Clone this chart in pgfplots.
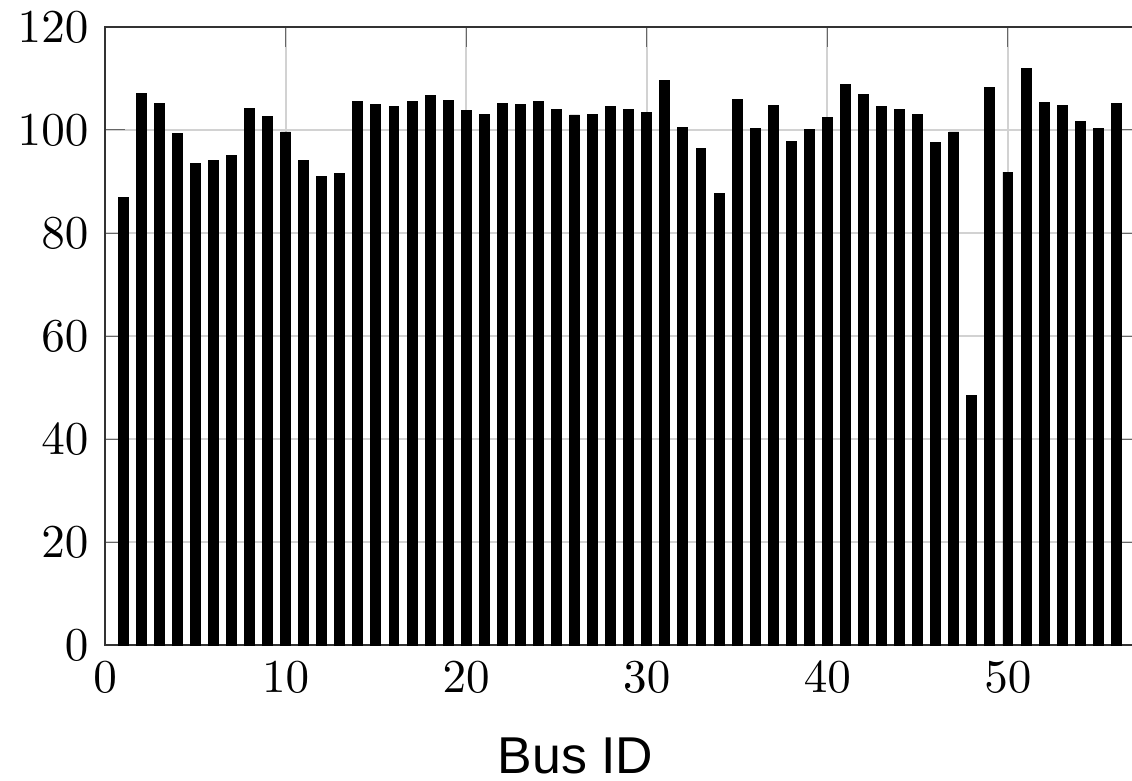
\documentclass[border=0pt]{standalone}
\usepackage{pgfplots}
\pgfplotsset{compat=1.18}
\usepackage{fontspec}
\newfontfamily\labelfont{Liberation Sans}
\begin{document}
\begin{tikzpicture}
\begin{axis}[
  scale only axis,
  width=218.5pt, height=131.3pt,
  xmin=0, xmax=57, ymin=0, ymax=120,
  ybar, bar width=0.55,
  xtick={0,10,20,30,40,50},
  ytick={0,20,40,60,80,100,120},
  tick align=inside,
  grid=major,
  major grid style={gray!35, line width=0.4pt},
  axis line style={black!80},
  tick style={black!60},
  xlabel={\labelfont\fontsize{11}{13}\selectfont Bus ID},
  xlabel style={at={(axis description cs:0.457,-0.207)}, anchor=base, inner sep=0pt},
]
\addplot[fill=black, draw=black, line width=0.2pt] coordinates {
(1,86.9) (2,107.0) (3,105.1) (4,99.4) (5,93.4) (6,94.0) (7,95.1) (8,104.1)
(9,102.7) (10,99.6) (11,94.0) (12,90.9) (13,91.5) (14,105.5) (15,104.9) (16,104.6)
(17,105.6) (18,106.7) (19,105.7) (20,103.8) (21,103.0) (22,105.2) (23,105.0) (24,105.5)
(25,104.0) (26,102.9) (27,103.0) (28,104.5) (29,103.9) (30,103.3) (31,109.5) (32,100.5)
(33,96.4) (34,87.7) (35,105.9) (36,100.3) (37,104.8) (38,97.7) (39,100.1) (40,102.5)
(41,108.8) (42,106.8) (43,104.5) (44,103.9) (45,103.0) (46,97.5) (47,99.6) (48,48.4)
(49,108.2) (50,91.8) (51,111.9) (52,105.3) (53,104.7) (54,101.7) (55,100.2) (56,105.1)
};
\end{axis}
\pgfresetboundingbox
\path[use as bounding box] ([xshift=-22.3pt, yshift=-28.7pt]current axis.south west) rectangle ([xshift=-0.5pt, yshift=5.7pt]current axis.north east);
\end{tikzpicture}
\end{document}
